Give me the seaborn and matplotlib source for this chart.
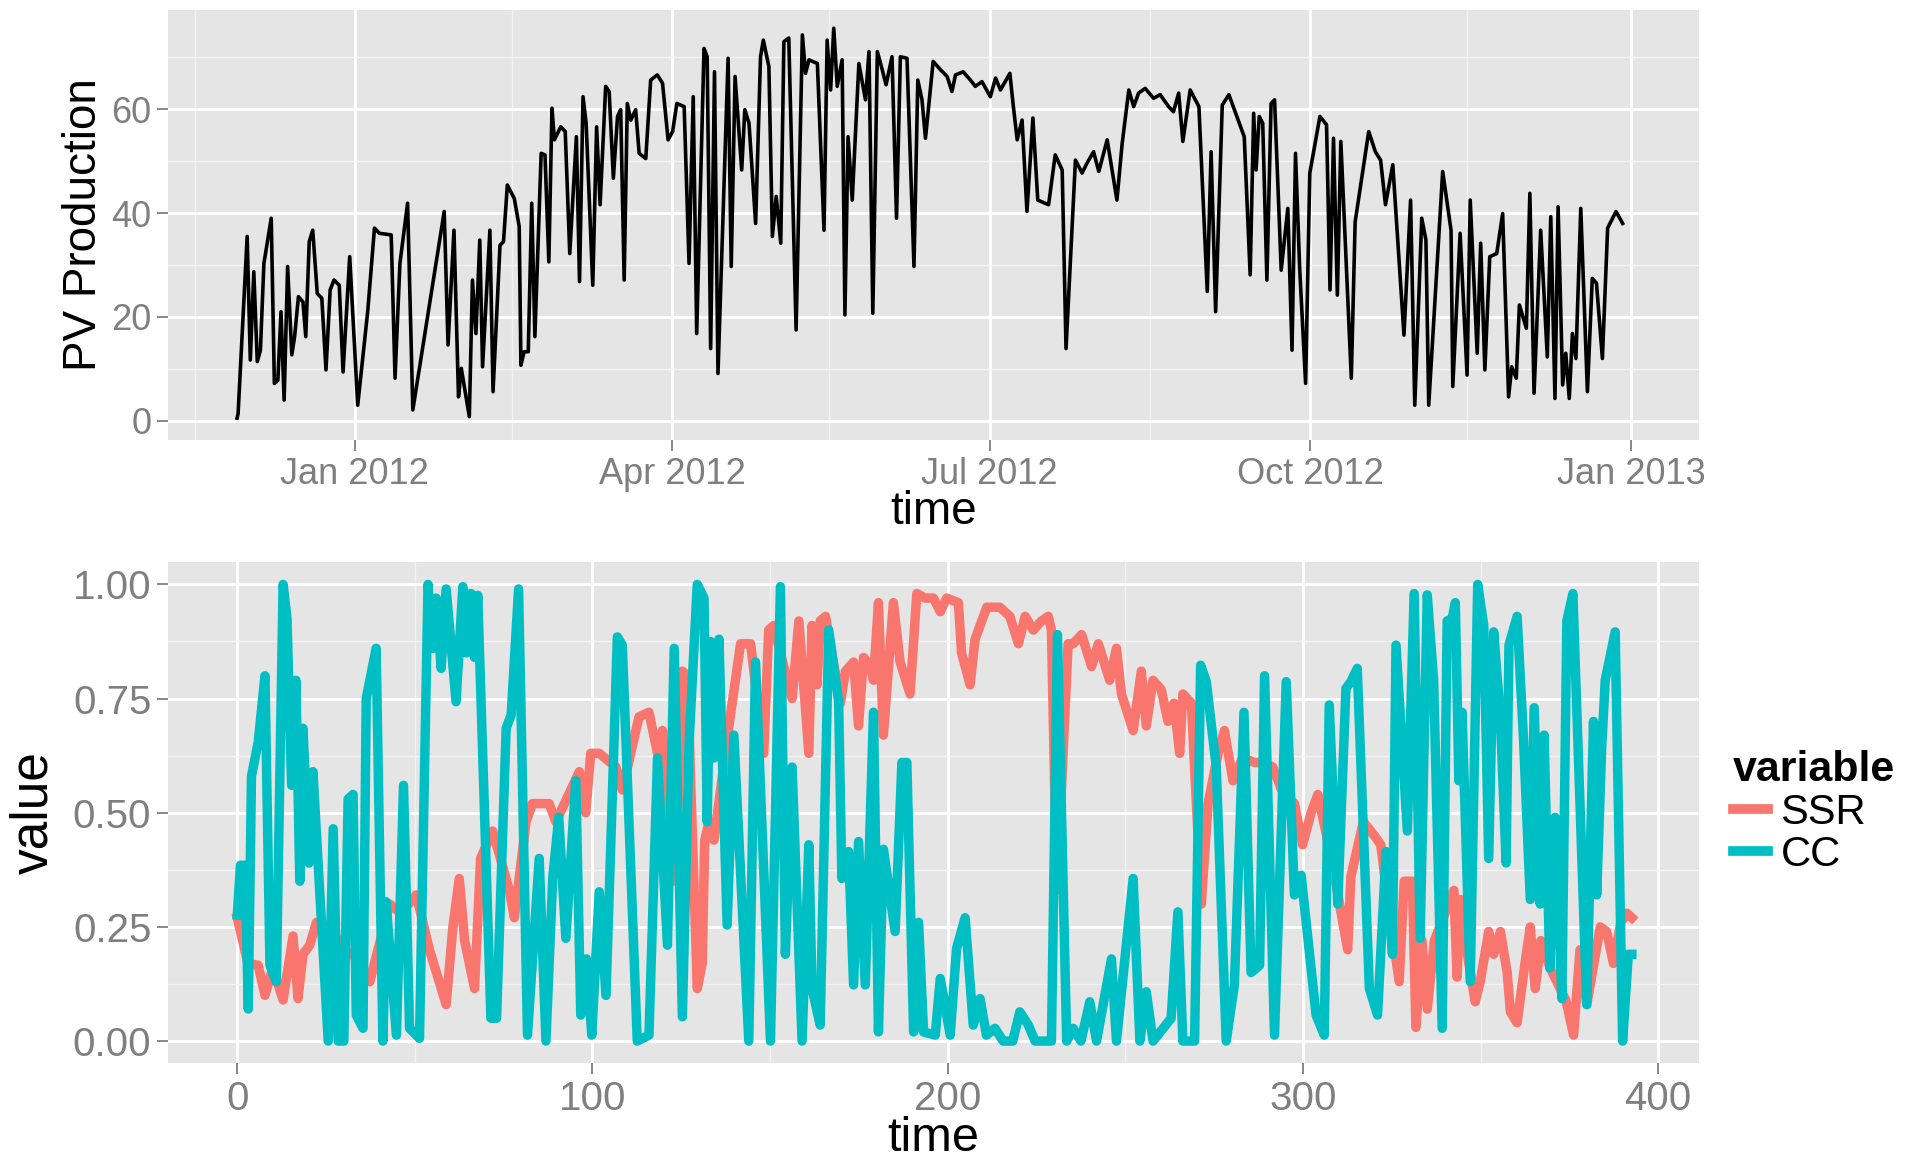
import numpy as np
import pandas as pd
import matplotlib
matplotlib.use("Agg")
import matplotlib.pyplot as plt
import matplotlib.dates as mdates
from matplotlib.ticker import FixedLocator
import seaborn as sns

# ---------------- data: top panel (PV production) ----------------
# days since 2012-01-01 of each reading, and the PV production value
pv_day = [
    -33.8, -33.5, -30.9, -30.0, -29.0, -28.0, -27.1, -26.1, -24.0, -23.1,
    -22.1, -21.2, -20.3, -19.3, -18.1, -17.3, -16.2, -14.9, -14.1, -13.1,
    -12.1, -10.8, -9.5, -8.3, -7.1, -6.0, -4.5, -3.4, -1.5, 0.8,
    3.7, 5.6, 7.0, 10.4, 11.5, 12.9, 15.1, 16.6, 25.6, 26.7,
    28.4, 29.7, 30.5, 32.8, 33.7, 34.7, 35.8, 36.6, 38.7, 39.6,
    41.6, 42.6, 43.7, 45.7, 47.1, 47.6, 48.5, 49.7, 50.7, 51.6,
    53.4, 54.5, 55.6, 56.5, 57.2, 59.0, 60.3, 61.6, 63.5, 64.4,
    65.4, 66.3, 68.2, 69.3, 70.3, 71.9, 72.9, 74.1, 75.3, 76.2,
    77.2, 78.1, 79.1, 80.5, 81.5, 83.4, 84.8, 86.7, 88.2, 89.8,
    91.1, 92.3, 94.4, 95.8, 97.0, 98.0, 100.1, 101.0, 102.0, 103.1,
    104.1, 107.0, 107.9, 109.0, 110.9, 111.8, 113.0, 114.9, 116.3, 117.1,
    118.7, 119.7, 120.8, 122.1, 123.0, 124.4, 126.5, 128.3, 129.2, 130.2,
    132.6, 134.5, 135.4, 136.4, 137.3, 138.3, 139.7, 140.5, 141.4, 142.6,
    144.5, 146.4, 147.4, 148.5, 149.8, 151.2, 152.3, 154.0, 155.3, 156.4,
    158.3, 160.3, 161.4, 162.6, 163.6, 165.8, 167.9, 169.8, 171.2, 172.2,
    174.4, 176.5, 177.9, 179.8, 182.2, 183.7, 185.1, 187.8, 188.7, 189.9,
    191.3, 192.7, 194.4, 195.8, 198.9, 200.8, 202.8, 203.9, 206.6, 208.5,
    209.9, 211.8, 213.3, 215.7, 218.5, 220.0, 221.9, 223.3, 224.7, 226.6,
    229.0, 230.9, 233.3, 234.7, 236.2, 237.4, 239.5, 242.0, 244.4, 245.5,
    246.8, 248.7, 250.6, 255.0, 256.7, 257.7, 258.4, 259.3, 260.3, 261.5,
    262.7, 263.7, 265.6, 267.5, 268.7, 269.7, 270.9, 272.6, 273.8, 276.7,
    278.6, 279.6, 280.6, 281.7, 282.7, 285.7, 286.8, 290.7, 292.6, 294.1,
    295.5, 297.6, 300.8, 302.7, 303.9, 305.9, 307.1, 307.9, 311.9, 314.3,
    314.8, 316.9, 318.9, 319.8, 321.8, 322.8, 324.0, 325.4, 327.4, 329.1,
    330.8, 331.7, 333.0, 333.9, 335.9, 336.9, 338.1, 340.0, 341.9, 342.9,
    344.1, 345.0, 346.3, 347.2, 348.2, 349.1, 350.1, 351.5, 353.4, 354.8,
    356.0, 357.7, 359.2, 361.6, 363.5,
]
pv_value = [
    0.5, 1.4, 35.5, 11.7, 28.7, 11.4, 13.6, 30.3, 39.0, 7.2,
    7.8, 21.0, 4.0, 29.7, 12.7, 16.2, 23.9, 22.9, 16.2, 34.5,
    36.7, 24.5, 23.6, 9.8, 25.2, 27.1, 26.1, 9.4, 31.6, 3.0,
    21.3, 37.1, 36.1, 35.8, 8.2, 30.3, 41.9, 2.1, 40.3, 14.6,
    36.7, 4.6, 10.1, 0.8, 27.1, 16.8, 34.8, 10.4, 36.7, 5.6,
    33.8, 34.5, 45.4, 42.8, 37.4, 10.7, 13.3, 13.3, 41.9, 16.2,
    51.5, 51.2, 30.6, 60.2, 54.1, 56.6, 55.7, 32.2, 54.7, 26.8,
    62.4, 57.3, 26.1, 56.6, 41.6, 64.4, 63.4, 46.7, 58.6, 59.9,
    27.1, 61.1, 57.9, 59.9, 51.5, 50.5, 65.6, 66.6, 65.0, 54.1,
    55.7, 61.1, 60.5, 30.3, 62.4, 16.8, 71.7, 70.1, 13.9, 67.2,
    9.1, 69.8, 29.7, 66.3, 48.3, 59.9, 57.3, 38.0, 70.1, 73.3,
    68.2, 35.5, 43.2, 34.2, 73.0, 73.7, 17.5, 74.3, 66.9, 69.5,
    68.8, 36.7, 73.3, 63.7, 75.6, 64.4, 69.5, 20.4, 54.7, 42.5,
    68.8, 61.8, 71.1, 20.7, 71.1, 67.6, 64.7, 70.1, 39.0, 70.1,
    69.8, 29.7, 65.6, 61.8, 54.4, 69.2, 67.6, 66.3, 63.4, 66.6,
    67.2, 65.6, 64.4, 65.3, 62.4, 66.0, 63.7, 66.9, 61.1, 54.1,
    57.9, 40.3, 58.3, 42.5, 41.6, 51.2, 48.3, 13.9, 50.2, 47.7,
    49.6, 51.8, 48.0, 54.1, 42.5, 53.4, 63.7, 60.5, 63.1, 64.0,
    62.1, 62.8, 60.5, 59.5, 63.1, 53.8, 63.7, 60.5, 24.9, 51.8,
    21.0, 60.8, 62.8, 54.7, 28.1, 59.2, 48.3, 58.6, 57.3, 27.1,
    61.1, 61.8, 29.0, 40.9, 13.6, 51.5, 29.3, 7.2, 47.7, 58.6,
    57.0, 25.2, 54.4, 24.2, 53.8, 8.2, 38.3, 55.7, 51.8, 50.2,
    41.6, 49.3, 16.5, 42.5, 3.0, 39.0, 34.8, 3.0, 48.0, 36.7,
    6.6, 36.1, 8.8, 42.5, 13.0, 34.2, 9.8, 31.6, 32.2, 39.9,
    4.6, 10.4, 8.2, 22.3, 17.8, 43.8, 5.3, 36.7, 12.3, 39.3,
    4.3, 41.2, 6.9, 13.0, 4.3, 16.8, 12.0, 40.9, 5.6, 27.4,
    26.5, 12.0, 37.1, 40.3, 38.0,
]

# ---------------- data: bottom panel (SSR and CC) ----------------
ssr_time = [
    0, 3.0, 5.9, 7.8, 10.0, 12.9, 15.7, 17.1, 18.5, 20.4,
    22.3, 26.0, 30.0, 34.0, 37.3, 42.9, 46.0, 50.4, 54.1, 58.8,
    60.7, 62.5, 64.0, 66.8, 68.5, 71.9, 76.6, 78.0, 81.3, 83.1,
    87.8, 89.7, 93.9, 96.3, 98.1, 99.5, 101.9, 106.6, 108.4, 113.1,
    115.9, 118.3, 119.7, 123.4, 125.3, 126.7, 129.5, 130.9, 131.6, 132.8,
    134.2, 138.4, 141.7, 144.5, 148.2, 149.6, 151.0, 154.5, 156.2, 158.1,
    160.9, 161.8, 163.2, 164.1, 165.6, 169.8, 171.2, 173.5, 174.9, 176.3,
    178.2, 179.1, 180.5, 181.9, 184.7, 186.6, 189.4, 191.3, 193.6, 196.0,
    197.9, 199.7, 203.0, 203.9, 206.3, 207.7, 211.0, 214.7, 217.5, 219.9,
    221.8, 224.1, 226.4, 228.3, 229.2, 230.7, 233.9, 235.3, 237.7, 240.5,
    242.4, 245.6, 247.5, 248.9, 252.2, 254.5, 255.9, 257.8, 260.1, 262.0,
    263.7, 265.3, 266.2, 268.6, 271.4, 273.3, 276.1, 277.9, 280.3, 283.0,
    286.4, 289.2, 291.5, 294.0, 297.6, 299.9, 302.3, 304.2, 308.0, 312.6,
    313.5, 317.0, 320.1, 321.9, 324.0, 327.1, 328.5, 330.8, 331.8, 333.5,
    335.0, 337.0, 339.0, 342.5, 343.4, 344.3, 346.5, 348.5, 349.9, 352.3,
    353.7, 355.6, 357.5, 358.4, 360.3, 362.5, 364.0, 365.4, 367.0, 369.6,
    372.4, 374.0, 376.2, 378.0, 379.9, 383.7, 385.5, 387.4, 389.5, 391.2,
    392.6,
]
ssr_value = [
    0.27, 0.17, 0.166, 0.10, 0.16, 0.09, 0.23, 0.093, 0.19, 0.21,
    0.26, 0.25, 0.20, 0.18, 0.13, 0.30, 0.28, 0.32, 0.20, 0.08,
    0.25, 0.356, 0.22, 0.115, 0.40, 0.46, 0.33, 0.27, 0.48, 0.52,
    0.52, 0.48, 0.55, 0.59, 0.50, 0.63, 0.63, 0.60, 0.55, 0.71,
    0.72, 0.63, 0.68, 0.35, 0.81, 0.80, 0.115, 0.17, 0.44, 0.48,
    0.44, 0.69, 0.87, 0.87, 0.63, 0.90, 0.91, 0.80, 0.75, 0.92,
    0.63, 0.91, 0.78, 0.92, 0.93, 0.74, 0.81, 0.83, 0.69, 0.84,
    0.82, 0.79, 0.96, 0.67, 0.96, 0.83, 0.76, 0.98, 0.97, 0.97,
    0.94, 0.97, 0.96, 0.85, 0.78, 0.88, 0.95, 0.95, 0.93, 0.87,
    0.93, 0.90, 0.92, 0.93, 0.90, 0.33, 0.87, 0.87, 0.89, 0.82,
    0.87, 0.79, 0.86, 0.76, 0.68, 0.81, 0.69, 0.79, 0.77, 0.70,
    0.74, 0.63, 0.76, 0.74, 0.30, 0.52, 0.63, 0.68, 0.57, 0.62,
    0.61, 0.61, 0.60, 0.55, 0.52, 0.43, 0.50, 0.54, 0.40, 0.20,
    0.36, 0.48, 0.45, 0.43, 0.30, 0.13, 0.35, 0.35, 0.03, 0.22,
    0.07, 0.22, 0.26, 0.33, 0.14, 0.31, 0.18, 0.086, 0.13, 0.24,
    0.19, 0.24, 0.15, 0.064, 0.04, 0.17, 0.25, 0.115, 0.22, 0.16,
    0.115, 0.09, 0.013, 0.20, 0.08, 0.25, 0.24, 0.17, 0.26, 0.28,
    0.27,
]
cc_time = [
    0, 0.9, 2.2, 3.1, 4.0, 5.9, 7.8, 9.2, 11.0, 12.9,
    14.0, 15.3, 16.5, 17.6, 18.5, 20.2, 21.3, 25.6, 27.0, 28.4,
    30.0, 31.2, 32.6, 33.5, 35.4, 36.3, 39.1, 41.0, 41.9, 44.8,
    46.8, 48.5, 51.3, 53.7, 55.1, 56.0, 57.4, 58.8, 61.6, 63.5,
    64.5, 65.8, 66.8, 67.7, 71.4, 73.0, 75.7, 77.1, 79.2, 81.7,
    85.0, 86.9, 88.8, 90.5, 92.5, 95.3, 96.7, 98.3, 99.8, 101.9,
    103.8, 107.0, 108.4, 112.6, 115.9, 118.3, 121.1, 123.0, 125.3, 127.2,
    129.5, 131.4, 132.3, 133.2, 134.2, 135.6, 137.9, 139.8, 144.0, 145.9,
    150.1, 152.9, 154.3, 156.2, 159.0, 160.9, 161.8, 164.1, 166.5, 169.3,
    170.2, 172.1, 173.5, 174.9, 176.8, 179.1, 180.5, 181.9, 185.2, 187.1,
    188.5, 190.4, 191.8, 193.2, 196.5, 197.9, 200.7, 202.5, 204.9, 207.2,
    209.1, 210.9, 213.3, 215.6, 218.3, 220.3, 222.7, 224.6, 229.2, 230.9,
    233.5, 235.3, 237.5, 240.0, 241.9, 246.1, 247.5, 252.2, 254.1, 255.9,
    257.8, 262.9, 264.8, 266.2, 269.5, 271.2, 272.8, 275.6, 278.4, 280.7,
    283.4, 285.4, 287.8, 289.2, 292.0, 295.3, 297.6, 299.5, 303.7, 306.0,
    307.4, 309.8, 312.1, 313.5, 315.3, 318.7, 321.0, 323.4, 325.2, 326.2,
    329.4, 331.3, 333.0, 335.0, 336.8, 339.2, 340.6, 342.0, 342.9, 343.9,
    344.8, 347.1, 349.2, 350.9, 352.3, 353.7, 355.6, 357.2, 358.0, 360.3,
    362.1, 364.0, 365.1, 366.8, 367.9, 369.5, 371.0, 372.9, 374.3, 376.0,
    379.9, 381.8, 382.7, 384.1, 385.1, 387.9, 390.0, 391.6, 392.6,
]
cc_value = [
    0.276, 0.385, 0.385, 0.07, 0.58, 0.655, 0.80, 0.166, 0.13, 1.0,
    0.925, 0.56, 0.79, 0.35, 0.685, 0.39, 0.59, 0.0, 0.465, 0.0,
    0.0, 0.53, 0.54, 0.057, 0.028, 0.75, 0.86, 0.0, 0.305, 0.013,
    0.56, 0.028, 0.006, 1.0, 0.86, 0.97, 0.816, 0.99, 0.743, 0.995,
    0.85, 0.98, 0.84, 0.976, 0.05, 0.05, 0.685, 0.714, 0.99, 0.013,
    0.40, 0.0, 0.356, 0.49, 0.225, 0.57, 0.057, 0.18, 0.013, 0.327,
    0.10, 0.885, 0.867, 0.0, 0.013, 0.62, 0.21, 0.86, 0.053, 0.655,
    1.0, 0.97, 0.48, 0.875, 0.62, 0.88, 0.254, 0.67, 0.0, 0.83,
    0.0, 0.995, 0.19, 0.60, 0.0, 0.43, 0.115, 0.035, 0.90, 0.743,
    0.356, 0.415, 0.123, 0.437, 0.123, 0.72, 0.02, 0.42, 0.24, 0.61,
    0.61, 0.02, 0.26, 0.02, 0.013, 0.137, 0.013, 0.203, 0.27, 0.035,
    0.093, 0.013, 0.028, 0.0, 0.0, 0.064, 0.035, 0.0, 0.0, 0.89,
    0.0, 0.028, 0.0, 0.086, 0.0, 0.18, 0.0, 0.356, 0.0, 0.108,
    0.0, 0.05, 0.283, 0.0, 0.0, 0.823, 0.787, 0.60, 0.0, 0.123,
    0.72, 0.15, 0.166, 0.80, 0.013, 0.787, 0.32, 0.363, 0.057, 0.013,
    0.736, 0.30, 0.772, 0.787, 0.816, 0.115, 0.057, 0.415, 0.19, 0.867,
    0.46, 0.98, 0.225, 0.977, 0.79, 0.028, 0.92, 0.925, 0.96, 0.57,
    0.72, 0.13, 1.0, 0.91, 0.40, 0.896, 0.706, 0.39, 0.867, 0.93,
    0.66, 0.31, 0.73, 0.30, 0.67, 0.16, 0.49, 0.093, 0.92, 0.98,
    0.08, 0.70, 0.32, 0.64, 0.79, 0.896, 0.0, 0.19, 0.19,
]
series_names = ["SSR", "CC"]
series_colors = ["#F8766D", "#00BFC4"]
date_ticks = ["2012-01-01", "2012-04-01", "2012-07-01", "2012-10-01", "2013-01-01"]
date_minor = ["2011-11-16", "2012-02-15", "2012-05-16", "2012-08-16", "2012-11-15"]

# ---------------- styling ----------------
plt.rcParams["font.family"] = ["Liberation Sans", "DejaVu Sans"]
GREY_TXT = "#7F7F7F"


def gg_style(ax):
    ax.set_facecolor("#E5E5E5")
    for s in ax.spines.values():
        s.set_visible(False)
    ax.set_axisbelow(True)
    ax.grid(which="major", color="white", linewidth=2.0)
    ax.grid(which="minor", color="#F2F2F2", linewidth=1.0)
    ax.tick_params(which="major", length=8, width=1.3, color=GREY_TXT,
                   labelcolor=GREY_TXT, pad=4)
    ax.tick_params(which="minor", length=0)


fig = plt.figure(figsize=(19.07, 11.63), dpi=100)
W, H = 1907, 1163
ax1 = fig.add_axes([168 / W, 1 - 440 / H, (1699 - 168) / W, (440 - 10) / H])
ax2 = fig.add_axes([168 / W, 1 - 1063 / H, (1699 - 168) / W, (1063 - 562) / H])

# ---------------- top panel ----------------
base = pd.Timestamp("2012-01-01")
pv_df = pd.DataFrame({
    "time": base + pd.to_timedelta(np.array(pv_day), unit="D"),
    "PV Production": pv_value,
})
sns.lineplot(data=pv_df, x="time", y="PV Production", color="black",
             linewidth=2.6, estimator=None, sort=False, ax=ax1)
gg_style(ax1)
ax1.set_xlim(base + pd.Timedelta(days=-53.6), base + pd.Timedelta(days=385.4))
ax1.set_ylim(-3.7, 79.1)
ax1.set_yticks([0, 20, 40, 60])
ax1.yaxis.set_minor_locator(FixedLocator([10, 30, 50, 70]))
ax1.xaxis.set_major_locator(FixedLocator(mdates.date2num(pd.to_datetime(date_ticks))))
ax1.xaxis.set_major_formatter(mdates.DateFormatter("%b %Y"))
ax1.xaxis.set_minor_locator(FixedLocator(mdates.date2num(pd.to_datetime(date_minor))))
ax1.tick_params(axis="both", which="major", labelsize=26)
ax1.set_xlabel("time", fontsize=33, labelpad=-1)
ax1.set_ylabel("PV Production", fontsize=33, labelpad=4)

# ---------------- bottom panel ----------------
long_df = pd.concat([
    pd.DataFrame({"time": ssr_time, "value": ssr_value, "variable": series_names[0]}),
    pd.DataFrame({"time": cc_time, "value": cc_value, "variable": series_names[1]}),
], ignore_index=True)
sns.lineplot(data=long_df, x="time", y="value", hue="variable",
             hue_order=series_names, palette=series_colors,
             linewidth=6.8, estimator=None, ax=ax2)
gg_style(ax2)
ax2.set_xlim(-19.5, 411.5)
ax2.set_ylim(-0.048, 1.049)
ax2.set_xticks([0, 100, 200, 300, 400])
ax2.xaxis.set_minor_locator(FixedLocator([50, 150, 250, 350]))
ax2.set_yticks([0, 0.25, 0.5, 0.75, 1.0])
ax2.set_yticklabels(["0.00", "0.25", "0.50", "0.75", "1.00"])
ax2.yaxis.set_minor_locator(FixedLocator([0.125, 0.375, 0.625, 0.875]))
ax2.tick_params(axis="both", which="major", labelsize=29)
ax2.set_xlabel("time", fontsize=35, labelpad=-1)
ax2.set_ylabel("value", fontsize=37, labelpad=10)

handles, labels = ax2.get_legend_handles_labels()
for h in handles:
    h.set_linewidth(7)
leg = ax2.legend(handles, labels, title="variable", loc="center left",
                 bbox_to_anchor=(1.011, 0.5), frameon=False, fontsize=30,
                 handlelength=0.85, handletextpad=0.3, labelspacing=0.05,
                 borderaxespad=0)
leg.get_title().set_fontsize(31)
leg.get_title().set_fontweight("bold")
leg._legend_box.align = "left"

fig.savefig("out.png", dpi=100)
